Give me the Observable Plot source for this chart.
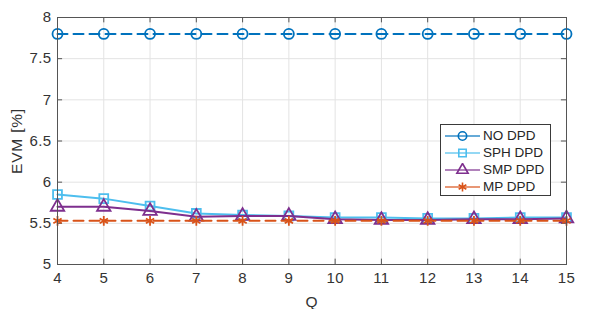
<!DOCTYPE html>
<html><head><meta charset="utf-8">
<script src="https://cdn.jsdelivr.net/npm/d3@7"></script>
<script src="https://cdn.jsdelivr.net/npm/@observablehq/plot@0.6"></script>
<style>
body{margin:0;background:#fff;font-family:"Liberation Sans",Arial,Helvetica,sans-serif}
#wrap{position:relative;width:598px;height:309px}
#legend{position:absolute;left:440px;top:124px;width:111px;height:72px;border:1px solid #3a3a3a;background:#fff;box-sizing:border-box;padding-top:2px}
.row{display:flex;align-items:center;height:17px;font-size:13.5px;color:#262626}
.row svg{margin-left:3px;margin-right:3px}
svg [aria-label="y-axis label"] text, svg [aria-label="x-axis label"] text{letter-spacing:0.8px}
svg [aria-label="y-axis tick label"] text, svg [aria-label="x-axis tick label"] text{letter-spacing:0.4px}
</style></head><body><div id="wrap"></div>
<script>
const Q = [4,5,6,7,8,9,10,11,12,13,14,15];
const noDPD  = [7.80,7.80,7.80,7.80,7.80,7.80,7.80,7.80,7.80,7.80,7.80,7.80];
const sphDPD = [5.85,5.80,5.71,5.62,5.60,5.59,5.57,5.57,5.56,5.56,5.57,5.57];
const smpDPD = [5.70,5.70,5.65,5.58,5.59,5.59,5.55,5.54,5.54,5.55,5.55,5.56];
const mpDPD  = [5.53,5.53,5.53,5.53,5.53,5.53,5.53,5.53,5.53,5.53,5.53,5.53];
const seriesNames = ["NO DPD","SPH DPD","SMP DPD","MP DPD"];
const seriesValues = [noDPD, sphDPD, smpDPD, mpDPD];
const colors = ["#0072BD","#4DBEEE","#7E2F8E","#D95319"];
const symbols = ["circle","square","triangle","asterisk"];
const dashes = ["10,6", null, null, "10,6"];
const xTicks = Q;
const yTicks = [5,5.5,6,6.5,7,7.5,8];
const xLabel = "Q";
const yLabel = "EVM [%]";

const marks = [
  Plot.gridX(xTicks, {stroke:"#e3e3e3", strokeOpacity:1}),
  Plot.gridY(yTicks, {stroke:"#e3e3e3", strokeOpacity:1}),
  // inward ticks (MATLAB style)
  Plot.ruleX(xTicks, {y1:5, y2:5.065, stroke:"#555"}),
  Plot.ruleX(xTicks, {y1:8, y2:7.935, stroke:"#555"}),
  Plot.ruleY(yTicks, {x1:4, x2:4.11, stroke:"#555"}),
  Plot.ruleY(yTicks, {x1:15, x2:14.89, stroke:"#555"}),
];
seriesValues.forEach((vals, i) => {
  const data = Q.map((q, j) => ({q, v: vals[j]}));
  marks.push(Plot.line(data, {x:"q", y:"v", stroke:colors[i], strokeWidth:2, strokeDasharray:dashes[i] || undefined}));
  marks.push(Plot.dot(data, {x:"q", y:"v", stroke:colors[i], symbol:symbols[i], r: symbols[i]==="asterisk"?4.5:5, strokeWidth:1.8, fill: "none"}));
});
marks.push(Plot.frame({stroke:"#555", strokeWidth:1}));

const chart = Plot.plot({
  width:598, height:309,
  marginLeft:57, marginRight:32, marginTop:17, marginBottom:45,
  style:{fontFamily:'"Liberation Sans",Arial,sans-serif', fontSize:"15px", color:"#333", background:"#fff", overflow:"visible"},
  x:{domain:[4,15], ticks:xTicks, tickSize:0, tickPadding:8, label:xLabel, labelAnchor:"center", labelArrow:"none", labelOffset:42, tickFormat:d=>String(d)},
  y:{domain:[5,8], ticks:yTicks, tickSize:0, tickPadding:6, label:yLabel, labelAnchor:"center", labelArrow:"none", labelOffset:47, tickFormat:d=>String(d)},
  marks
});
const wrap = document.getElementById("wrap");
wrap.appendChild(chart);
chart.querySelectorAll('[aria-label="y-axis label"] text, [aria-label="x-axis label"] text').forEach(t => t.style.fontSize = "15.5px");

// Legend
const leg = document.createElement("div");
leg.id = "legend";
const symMap = {circle:d3.symbolCircle, square:d3.symbolSquare, triangle:d3.symbolTriangle, asterisk:d3.symbolAsterisk};
seriesNames.forEach((name, i) => {
  const row = document.createElement("div");
  row.className = "row";
  const s = d3.create("svg").attr("width", 36).attr("height", 14);
  s.append("line").attr("x1",1).attr("x2",36).attr("y1",7).attr("y2",7).attr("stroke",colors[i]).attr("stroke-width",1.6).attr("stroke-opacity",0.8);
  s.append("path").attr("transform","translate(18.5,7)").attr("d", d3.symbol(symMap[symbols[i]], 55)())
    .attr("fill","none").attr("stroke",colors[i]).attr("stroke-width",1.6);
  row.appendChild(s.node());
  const t = document.createElement("span");
  t.textContent = name;
  row.appendChild(t);
  leg.appendChild(row);
});
wrap.appendChild(leg);
</script></body></html>
